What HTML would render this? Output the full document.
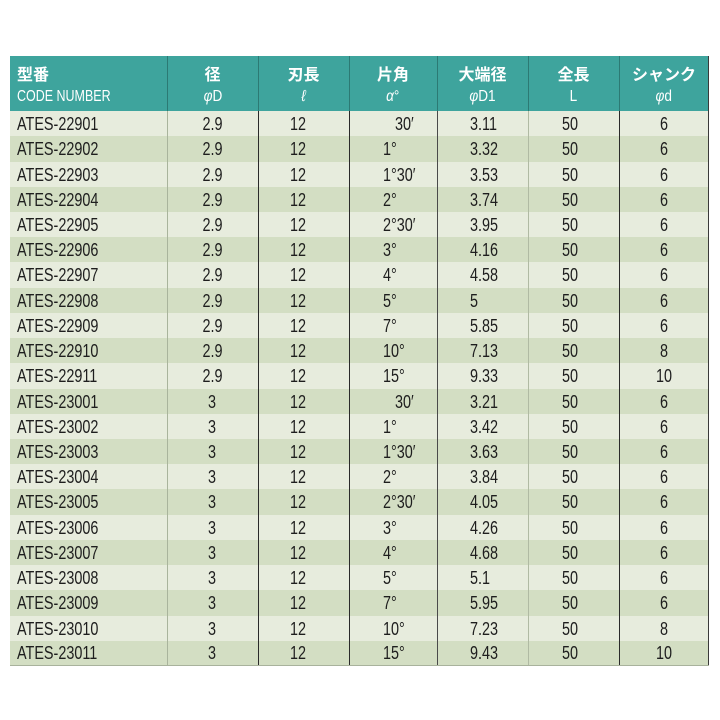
<!DOCTYPE html>
<html><head><meta charset="utf-8">
<style>
html,body{margin:0;padding:0;background:#fff;}
body{width:720px;height:720px;position:relative;overflow:hidden;font-family:"Liberation Sans","Noto Sans CJK JP",sans-serif;}
#t{position:absolute;left:10px;top:56px;width:699px;height:610px;}
.row{position:absolute;left:0;width:699px;height:26px;}
.l{background:#e7ecdd;}
.d{background:#d3dec3;}
.c{position:absolute;top:0;height:100%;display:flex;align-items:center;justify-content:center;font-size:18px;color:#1e1e1e;padding-top:1px;box-sizing:border-box;}
.c span{display:inline-block;transform:scaleX(0.8);white-space:pre;}
.c0{left:0;width:157px;justify-content:flex-start;padding-left:7px;}
.c0 span{transform-origin:left center;}
.c1{left:157px;width:91px;}
.c2{left:243px;width:91px;}
.c3{left:339px;width:88px;justify-content:flex-start;padding-left:34px;}
.c3 span{transform-origin:left center;}
.c4{left:427px;width:91px;justify-content:flex-start;padding-left:33px;}
.c4 span{transform-origin:left center;}
.c5{left:515px;width:91px;}
.c6{left:609px;width:90px;}
#hd{position:absolute;left:0;top:0;width:699px;height:55px;background:#3ea49d;}
.h{position:absolute;top:0;height:55px;color:#fff;text-align:center;}
.h .a{position:absolute;top:10px;left:0;right:0;font-size:16px;font-weight:bold;line-height:20px;}
.h .b{position:absolute;top:31px;left:0;right:0;font-size:16px;line-height:20px;}
.h .b span{display:inline-block;transform:scaleX(0.85);}
.vl{position:absolute;top:0;width:1px;height:610px;}
</style></head><body>
<div id="t">
<div id="hd"></div>
<div class="h" style="left:0;width:157px;text-align:left;">
  <div class="a" style="left:7px;">型番</div>
  <div class="b" style="left:7px;"><span style="transform:scaleX(0.78);transform-origin:left center;white-space:nowrap;">CODE NUMBER</span></div>
</div>
<div class="h" style="left:157px;width:91px;"><div class="a">径</div><div class="b"><span><i>φ</i>D</span></div></div>
<div class="h" style="left:248px;width:91px;"><div class="a">刃長</div><div class="b"><span><i>ℓ</i></span></div></div>
<div class="h" style="left:339px;width:88px;"><div class="a">片角</div><div class="b"><span><i>α</i>°</span></div></div>
<div class="h" style="left:427px;width:91px;"><div class="a">大端径</div><div class="b"><span><i>φ</i>D1</span></div></div>
<div class="h" style="left:518px;width:91px;"><div class="a">全長</div><div class="b"><span>L</span></div></div>
<div class="h" style="left:609px;width:90px;"><div class="a">シャンク</div><div class="b"><span><i>φ</i>d</span></div></div>

<div class="row l" style="top:55px"><div class="c c0"><span>ATES-22901</span></div><div class="c c1"><span>2.9</span></div><div class="c c2"><span>12</span></div><div class="c c3"><span>   30′</span></div><div class="c c4"><span>3.11</span></div><div class="c c5"><span>50</span></div><div class="c c6"><span>6</span></div></div>
<div class="row d" style="top:80.2px"><div class="c c0"><span>ATES-22902</span></div><div class="c c1"><span>2.9</span></div><div class="c c2"><span>12</span></div><div class="c c3"><span>1°</span></div><div class="c c4"><span>3.32</span></div><div class="c c5"><span>50</span></div><div class="c c6"><span>6</span></div></div>
<div class="row l" style="top:105.5px"><div class="c c0"><span>ATES-22903</span></div><div class="c c1"><span>2.9</span></div><div class="c c2"><span>12</span></div><div class="c c3"><span>1°30′</span></div><div class="c c4"><span>3.53</span></div><div class="c c5"><span>50</span></div><div class="c c6"><span>6</span></div></div>
<div class="row d" style="top:130.7px"><div class="c c0"><span>ATES-22904</span></div><div class="c c1"><span>2.9</span></div><div class="c c2"><span>12</span></div><div class="c c3"><span>2°</span></div><div class="c c4"><span>3.74</span></div><div class="c c5"><span>50</span></div><div class="c c6"><span>6</span></div></div>
<div class="row l" style="top:155.9px"><div class="c c0"><span>ATES-22905</span></div><div class="c c1"><span>2.9</span></div><div class="c c2"><span>12</span></div><div class="c c3"><span>2°30′</span></div><div class="c c4"><span>3.95</span></div><div class="c c5"><span>50</span></div><div class="c c6"><span>6</span></div></div>
<div class="row d" style="top:181.1px"><div class="c c0"><span>ATES-22906</span></div><div class="c c1"><span>2.9</span></div><div class="c c2"><span>12</span></div><div class="c c3"><span>3°</span></div><div class="c c4"><span>4.16</span></div><div class="c c5"><span>50</span></div><div class="c c6"><span>6</span></div></div>
<div class="row l" style="top:206.4px"><div class="c c0"><span>ATES-22907</span></div><div class="c c1"><span>2.9</span></div><div class="c c2"><span>12</span></div><div class="c c3"><span>4°</span></div><div class="c c4"><span>4.58</span></div><div class="c c5"><span>50</span></div><div class="c c6"><span>6</span></div></div>
<div class="row d" style="top:231.6px"><div class="c c0"><span>ATES-22908</span></div><div class="c c1"><span>2.9</span></div><div class="c c2"><span>12</span></div><div class="c c3"><span>5°</span></div><div class="c c4"><span>5</span></div><div class="c c5"><span>50</span></div><div class="c c6"><span>6</span></div></div>
<div class="row l" style="top:256.8px"><div class="c c0"><span>ATES-22909</span></div><div class="c c1"><span>2.9</span></div><div class="c c2"><span>12</span></div><div class="c c3"><span>7°</span></div><div class="c c4"><span>5.85</span></div><div class="c c5"><span>50</span></div><div class="c c6"><span>6</span></div></div>
<div class="row d" style="top:282px"><div class="c c0"><span>ATES-22910</span></div><div class="c c1"><span>2.9</span></div><div class="c c2"><span>12</span></div><div class="c c3"><span>10°</span></div><div class="c c4"><span>7.13</span></div><div class="c c5"><span>50</span></div><div class="c c6"><span>8</span></div></div>
<div class="row l" style="top:307.3px"><div class="c c0"><span>ATES-22911</span></div><div class="c c1"><span>2.9</span></div><div class="c c2"><span>12</span></div><div class="c c3"><span>15°</span></div><div class="c c4"><span>9.33</span></div><div class="c c5"><span>50</span></div><div class="c c6"><span>10</span></div></div>
<div class="row d" style="top:332.5px"><div class="c c0"><span>ATES-23001</span></div><div class="c c1"><span>3</span></div><div class="c c2"><span>12</span></div><div class="c c3"><span>   30′</span></div><div class="c c4"><span>3.21</span></div><div class="c c5"><span>50</span></div><div class="c c6"><span>6</span></div></div>
<div class="row l" style="top:357.7px"><div class="c c0"><span>ATES-23002</span></div><div class="c c1"><span>3</span></div><div class="c c2"><span>12</span></div><div class="c c3"><span>1°</span></div><div class="c c4"><span>3.42</span></div><div class="c c5"><span>50</span></div><div class="c c6"><span>6</span></div></div>
<div class="row d" style="top:382.9px"><div class="c c0"><span>ATES-23003</span></div><div class="c c1"><span>3</span></div><div class="c c2"><span>12</span></div><div class="c c3"><span>1°30′</span></div><div class="c c4"><span>3.63</span></div><div class="c c5"><span>50</span></div><div class="c c6"><span>6</span></div></div>
<div class="row l" style="top:408.2px"><div class="c c0"><span>ATES-23004</span></div><div class="c c1"><span>3</span></div><div class="c c2"><span>12</span></div><div class="c c3"><span>2°</span></div><div class="c c4"><span>3.84</span></div><div class="c c5"><span>50</span></div><div class="c c6"><span>6</span></div></div>
<div class="row d" style="top:433.4px"><div class="c c0"><span>ATES-23005</span></div><div class="c c1"><span>3</span></div><div class="c c2"><span>12</span></div><div class="c c3"><span>2°30′</span></div><div class="c c4"><span>4.05</span></div><div class="c c5"><span>50</span></div><div class="c c6"><span>6</span></div></div>
<div class="row l" style="top:458.6px"><div class="c c0"><span>ATES-23006</span></div><div class="c c1"><span>3</span></div><div class="c c2"><span>12</span></div><div class="c c3"><span>3°</span></div><div class="c c4"><span>4.26</span></div><div class="c c5"><span>50</span></div><div class="c c6"><span>6</span></div></div>
<div class="row d" style="top:483.8px"><div class="c c0"><span>ATES-23007</span></div><div class="c c1"><span>3</span></div><div class="c c2"><span>12</span></div><div class="c c3"><span>4°</span></div><div class="c c4"><span>4.68</span></div><div class="c c5"><span>50</span></div><div class="c c6"><span>6</span></div></div>
<div class="row l" style="top:509.1px"><div class="c c0"><span>ATES-23008</span></div><div class="c c1"><span>3</span></div><div class="c c2"><span>12</span></div><div class="c c3"><span>5°</span></div><div class="c c4"><span>5.1</span></div><div class="c c5"><span>50</span></div><div class="c c6"><span>6</span></div></div>
<div class="row d" style="top:534.3px"><div class="c c0"><span>ATES-23009</span></div><div class="c c1"><span>3</span></div><div class="c c2"><span>12</span></div><div class="c c3"><span>7°</span></div><div class="c c4"><span>5.95</span></div><div class="c c5"><span>50</span></div><div class="c c6"><span>6</span></div></div>
<div class="row l" style="top:559.5px"><div class="c c0"><span>ATES-23010</span></div><div class="c c1"><span>3</span></div><div class="c c2"><span>12</span></div><div class="c c3"><span>10°</span></div><div class="c c4"><span>7.23</span></div><div class="c c5"><span>50</span></div><div class="c c6"><span>8</span></div></div>
<div class="row d" style="top:584.8px;height:25.2px"><div class="c c0"><span>ATES-23011</span></div><div class="c c1"><span>3</span></div><div class="c c2"><span>12</span></div><div class="c c3"><span>15°</span></div><div class="c c4"><span>9.43</span></div><div class="c c5"><span>50</span></div><div class="c c6"><span>10</span></div></div>

<!-- vertical lines -->
<div class="vl" style="left:157px;background:#a9b49c;"></div>
<div class="vl" style="left:248px;background:#2a2a2a;"></div>
<div class="vl" style="left:339px;background:#2a2a2a;"></div>
<div class="vl" style="left:427px;background:#4a4a4a;"></div>
<div class="vl" style="left:518px;background:#b0baa3;"></div>
<div class="vl" style="left:609px;background:#2a2a2a;"></div>
<div class="vl" style="left:698px;background:#3a3a3a;"></div>
<!-- header separators -->
<div style="position:absolute;left:157px;top:0;width:1px;height:55px;background:#2c7a74;"></div>
<div style="position:absolute;left:248px;top:0;width:1px;height:55px;background:#2c7a74;"></div>
<div style="position:absolute;left:339px;top:0;width:1px;height:55px;background:#2c7a74;"></div>
<div style="position:absolute;left:427px;top:0;width:1px;height:55px;background:#2c7a74;"></div>
<div style="position:absolute;left:518px;top:0;width:1px;height:55px;background:#2c7a74;"></div>
<div style="position:absolute;left:609px;top:0;width:1px;height:55px;background:#2c7a74;"></div>
<div style="position:absolute;left:0;top:609px;width:699px;height:1px;background:#a8b29c;"></div>
</div>
</body></html>
